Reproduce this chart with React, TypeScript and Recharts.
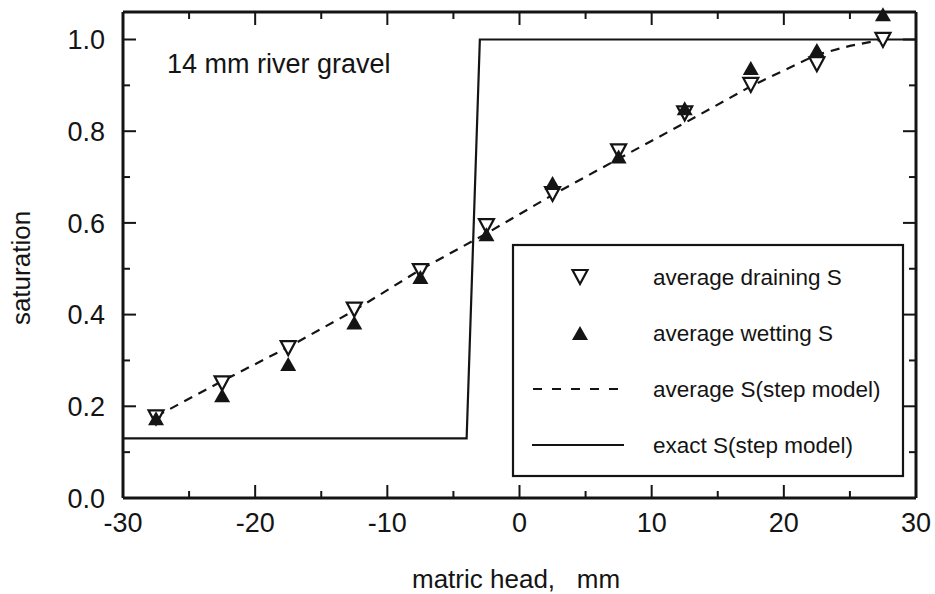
import React from 'react';
import { ComposedChart, Line, Scatter, XAxis, YAxis } from 'recharts';

// measured head positions (mm) and averaged saturation
const heads = [-27.5, -22.5, -17.5, -12.5, -7.5, -2.5, 2.5, 7.5, 12.5, 17.5, 22.5, 27.5];
const drainingS = [0.176, 0.25, 0.327, 0.411, 0.495, 0.593, 0.663, 0.756, 0.839, 0.901, 0.946, 0.999];
const wettingS = [0.174, 0.224, 0.292, 0.383, 0.482, 0.575, 0.687, 0.745, 0.85, 0.938, 0.977, 1.055];

// step model curves
const avgHeads = [-27.5, -22.5, -17.5, -12.5, -7.5, -2.5, 2.5, 7.5, 12.5, 17.5, 22.5, 25, 27.5];
const avgModelS = [0.178, 0.255, 0.329, 0.409, 0.498, 0.577, 0.661, 0.74, 0.818, 0.898, 0.967, 0.986, 1.0];
const exactHeads = [-30, -4, -3, 30];
const exactModelS = [0.13, 0.13, 1.0, 1.0];

const xTicks = [-30, -25, -20, -15, -10, -5, 0, 5, 10, 15, 20, 25, 30];
const xLabels = [-30, -20, -10, 0, 10, 20, 30];
const yTicks = [0, 0.1, 0.2, 0.3, 0.4, 0.5, 0.6, 0.7, 0.8, 0.9, 1.0];
const yLabels = [0, 0.2, 0.4, 0.6, 0.8, 1.0];

const drainingData = heads.map((h, i) => ({ h, s: drainingS[i] }));
const wettingData = heads.map((h, i) => ({ h, s: wettingS[i] }));
const avgData = avgHeads.map((h, i) => ({ h, s: avgModelS[i] }));
const exactData = exactHeads.map((h, i) => ({ h, s: exactModelS[i] }));

const INK = '#141414';
const FONT = '"Liberation Sans", Arial, Helvetica, sans-serif';
const MAJOR = 13;
const MINOR = 7;
const FRAME = { stroke: INK, strokeWidth: 3 };

const isIn = (list: number[], v: number) => list.some((t) => Math.abs(t - v) < 1e-6);

const DownTriangle = ({ cx, cy }: any) => (
  <path d={`M${cx - 7.5},${cy - 7} L${cx + 7.5},${cy - 7} L${cx},${cy + 7} Z`} fill="#fff" stroke={INK} strokeWidth={2.2} strokeLinejoin="miter" />
);

const UpTriangle = ({ cx, cy }: any) => (
  <path d={`M${cx},${cy - 7} L${cx + 8},${cy + 7} L${cx - 8},${cy + 7} Z`} fill={INK} stroke="none" />
);

const BottomTick = ({ x, y, payload }: any) => {
  const major = isIn(xLabels, payload.value);
  return (
    <g>
      <line x1={x} x2={x} y1={y} y2={y - (major ? MAJOR : MINOR)} stroke={INK} strokeWidth={2} />
      {major && (
        <text x={x} y={y + 34} textAnchor="middle" fontSize={27} fill={INK} fontFamily={FONT}>
          {payload.value}
        </text>
      )}
    </g>
  );
};

const TopTick = ({ x, y, payload }: any) => {
  const major = isIn(xLabels, payload.value);
  return <line x1={x} x2={x} y1={y} y2={y + (major ? MAJOR : MINOR)} stroke={INK} strokeWidth={2} />;
};

const LeftTick = ({ x, y, payload }: any) => {
  const major = isIn(yLabels, payload.value);
  return (
    <g>
      <line x1={x} x2={x + (major ? MAJOR : MINOR)} y1={y} y2={y} stroke={INK} strokeWidth={2} />
      {major && (
        <text x={x - 18} y={y + 9.7} textAnchor="end" fontSize={27} fill={INK} fontFamily={FONT}>
          {Number(payload.value).toFixed(1)}
        </text>
      )}
    </g>
  );
};

const RightTick = ({ x, y, payload }: any) => {
  const major = isIn(yLabels, payload.value);
  return <line x1={x} x2={x - (major ? MAJOR : MINOR)} y1={y} y2={y} stroke={INK} strokeWidth={2} />;
};

const legendRows = [
  { label: 'average draining S', kind: 'draining' },
  { label: 'average wetting S', kind: 'wetting' },
  { label: 'average S(step model)', kind: 'dashed' },
  { label: 'exact S(step model)', kind: 'solid' },
];

const LegendBox = () => (
  <svg
    width={392}
    height={233}
    style={{ position: 'absolute', left: 512, top: 244, overflow: 'visible' }}
  >
    <rect x={1} y={1} width={390} height={231} fill="#fff" stroke={INK} strokeWidth={2.2} />
    {legendRows.map((row, i) => {
      const cy = 33 + i * 56;
      return (
        <g key={row.label}>
          {row.kind === 'draining' && <DownTriangle cx={68} cy={cy} />}
          {row.kind === 'wetting' && <UpTriangle cx={68} cy={cy} />}
          {row.kind === 'dashed' && (
            <line x1={21} x2={106} y1={cy} y2={cy} stroke={INK} strokeWidth={2} strokeDasharray="9 10" />
          )}
          {row.kind === 'solid' && <line x1={20} x2={112} y1={cy} y2={cy} stroke={INK} strokeWidth={2} />}
          <text x={141} y={cy + 8} fontSize={22.5} fill={INK} fontFamily={FONT}>
            {row.label}
          </text>
        </g>
      );
    })}
  </svg>
);

export default function App() {
  return (
    <div
      style={{
        position: 'fixed',
        left: 0,
        top: 0,
        width: 935,
        height: 594,
        background: '#fff',
        fontFamily: FONT,
      }}
    >
      <ComposedChart width={935} height={594} margin={{ top: 11, right: 18, bottom: 95, left: 122 }}>
        <XAxis
          xAxisId={0}
          dataKey="h"
          type="number"
          domain={[-30, 30]}
          ticks={xTicks}
          interval={0}
          height={1}
          tickSize={0}
          tickMargin={0}
          tickLine={false}
          axisLine={FRAME}
          tick={BottomTick}
        />
        <XAxis
          xAxisId="top"
          orientation="top"
          dataKey="h"
          type="number"
          domain={[-30, 30]}
          allowDataOverflow
          ticks={xTicks}
          interval={0}
          height={1}
          tickSize={0}
          tickMargin={0}
          tickLine={false}
          axisLine={FRAME}
          tick={TopTick}
        />
        <YAxis
          yAxisId={0}
          dataKey="s"
          type="number"
          domain={[0, 1.06]}
          ticks={yTicks}
          interval={0}
          width={1}
          tickSize={0}
          tickMargin={0}
          tickLine={false}
          axisLine={FRAME}
          tick={LeftTick}
        />
        <YAxis
          yAxisId="right"
          orientation="right"
          dataKey="s"
          type="number"
          domain={[0, 1.06]}
          allowDataOverflow
          ticks={yTicks}
          interval={0}
          width={1}
          tickSize={0}
          tickMargin={0}
          tickLine={false}
          axisLine={FRAME}
          tick={RightTick}
        />
        <Line
          data={exactData}
          dataKey="s"
          type="linear"
          stroke={INK}
          strokeWidth={2.2}
          dot={false}
          activeDot={false}
          isAnimationActive={false}
        />
        <Line
          data={avgData}
          dataKey="s"
          type="linear"
          stroke={INK}
          strokeWidth={2.2}
          strokeDasharray="9 7"
          dot={false}
          activeDot={false}
          isAnimationActive={false}
        />
        <Scatter data={drainingData} dataKey="s" shape={DownTriangle} isAnimationActive={false} />
        <Scatter data={wettingData} dataKey="s" shape={UpTriangle} isAnimationActive={false} />
      </ComposedChart>

      <svg width={935} height={594} style={{ position: 'absolute', left: 0, top: 0, pointerEvents: 'none' }}>
        <text x={167} y={73} fontSize={27} fill={INK} fontFamily={FONT}>
          14 mm river gravel
        </text>
        <text x={412} y={588} fontSize={26} fill={INK} fontFamily={FONT} style={{ whiteSpace: 'pre' }}>
          {'matric head,   mm'}
        </text>
        <text
          x={30}
          y={268}
          fontSize={26}
          fill={INK}
          fontFamily={FONT}
          textAnchor="middle"
          transform="rotate(-90, 30, 268)"
        >
          saturation
        </text>
      </svg>

      <LegendBox />
    </div>
  );
}
